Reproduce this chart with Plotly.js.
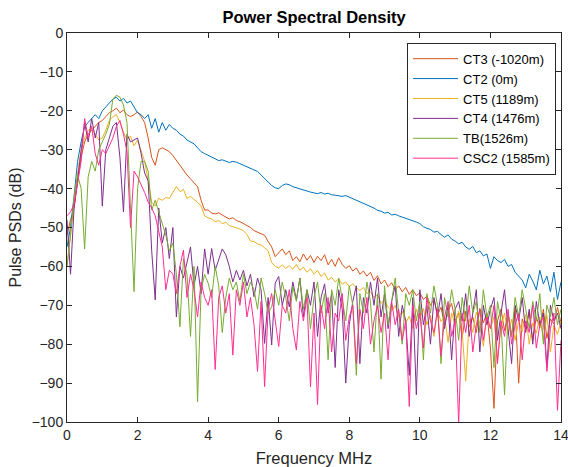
<!DOCTYPE html>
<html>
<head>
<meta charset="utf-8">
<script src="https://cdn.plot.ly/plotly-3.0.1.min.js"></script>
<style>html,body{margin:0;padding:0;background:#fff;}#chart{width:568px;height:467px;}</style>
</head>
<body>
<div id="chart"></div>
<script>
const freq = [0,0.1,0.2,0.3,0.4,0.5,0.6,0.7,0.8,0.9,1,1.1,1.2,1.3,1.4,1.5,1.6,1.7,1.8,1.9,2,2.1,2.2,2.3,2.4,2.5,2.6,2.7,2.8,2.9,3,3.1,3.2,3.3,3.4,3.5,3.6,3.7,3.8,3.9,4,4.1,4.2,4.3,4.4,4.5,4.6,4.7,4.8,4.9,5,5.1,5.2,5.3,5.4,5.5,5.6,5.7,5.8,5.9,6,6.1,6.2,6.3,6.4,6.5,6.6,6.7,6.8,6.9,7,7.1,7.2,7.3,7.4,7.5,7.6,7.7,7.8,7.9,8,8.1,8.2,8.3,8.4,8.5,8.6,8.7,8.8,8.9,9,9.1,9.2,9.3,9.4,9.5,9.6,9.7,9.8,9.9,10,10.1,10.2,10.3,10.4,10.5,10.6,10.7,10.8,10.9,11,11.1,11.2,11.3,11.4,11.5,11.6,11.7,11.8,11.9,12,12.1,12.2,12.3,12.4,12.5,12.6,12.7,12.8,12.9,13,13.1,13.2,13.3,13.4,13.5,13.6,13.7,13.8,13.9,14];

const seriesNames = ["CT3 (-1020m)", "CT2 (0m)", "CT5 (1189m)", "CT4 (1476m)", "TB(1526m)", "CSC2 (1585m)"];

const ct3 = [-52,-48,-45,-38,-32,-28,-26,-25,-24,-23,-22.5,-21.5,-20.5,-20,-19.3,-20.5,-19.8,-21,-21.5,-21,-20.3,-21.5,-23,-27,-32,-34,-30,-29.5,-30,-30.5,-31.5,-32.8,-34,-35.5,-36.5,-37.5,-38.5,-39.5,-43,-45.5,-45.5,-46.3,-46.5,-46.2,-46.8,-47.2,-47.8,-47.5,-48.2,-48.5,-49,-49.6,-50,-50.8,-51.2,-51.5,-52,-53.6,-55,-57.5,-56.5,-55.5,-57,-56,-58.5,-57.5,-58.8,-56.8,-58.4,-57.2,-59,-57.4,-58.5,-57,-59.6,-58.2,-60,-57.8,-59.5,-60.5,-59.8,-61.2,-60.4,-62,-61.2,-62.5,-61.5,-63.6,-62.4,-64.5,-63.5,-65.2,-64.2,-66,-65,-66.5,-65.4,-67.2,-66,-67.5,-66.8,-68.5,-67.6,-70,-68.5,-72.5,-70.5,-75,-71.5,-69.5,-74,-72,-78.5,-71.5,-75.5,-73,-77,-70.8,-74.5,-72,-81,-96.5,-74,-71,-76.5,-72.5,-78,-70.5,-90,-73.5,-76,-71.8,-79,-73,-75.8,-71,-78.5,-73.5,-74.8,-70.5,-74.5];

const ct2 = [-55,-50,-42,-33,-28,-24,-23,-22,-21,-22,-20,-19,-18,-17,-16.5,-17.5,-16.8,-18,-17.5,-19,-20.5,-21,-22,-21,-24.5,-22,-25.5,-23,-25,-23.5,-24.5,-25,-26,-26.5,-27.5,-28,-28.5,-29.5,-30.5,-31,-31.5,-32,-32.3,-32.8,-32.6,-33,-33.3,-33,-33.2,-33.6,-34,-34.3,-34.6,-35.2,-35.6,-36.5,-37.5,-38.3,-39.2,-39.8,-40,-39.2,-38.8,-39,-39.5,-39.8,-40.2,-40.3,-40.8,-40.9,-41.1,-41.3,-41,-41.4,-41.2,-41.6,-41.7,-41.9,-42,-41.8,-42.2,-42.6,-43,-43.5,-43.8,-44.3,-44.5,-45,-45.6,-45.8,-46.3,-46.1,-46.8,-46.6,-47,-47.3,-47.6,-47.8,-48.1,-48.6,-49,-49.8,-50.2,-50.5,-51.2,-51,-51.8,-52.5,-51.9,-53,-53.5,-54.2,-53.8,-55,-55.6,-54.9,-56.5,-56,-57.3,-56.8,-60.5,-57.5,-58.5,-59,-58.2,-60,-59.5,-61.5,-62.5,-63.5,-65.5,-62,-63.8,-66,-61,-64.5,-62.5,-66.5,-61.5,-68.5,-64];

const ct5 = [-60,-52,-44,-36,-30,-27,-25,-24.5,-26,-27.5,-27,-25,-22.5,-21.5,-21,-23,-25.5,-27.5,-26.5,-29,-27.5,-30,-33,-38,-43.5,-44.5,-42.5,-43,-42.3,-42.5,-41,-39.5,-40.8,-40.2,-42.5,-42,-42.8,-43.5,-44.5,-47,-47.5,-47.8,-48.5,-48.2,-49,-48.7,-49.5,-49.8,-50,-50.4,-50.8,-51.8,-53.5,-53.6,-54.2,-54.5,-55.2,-56,-59,-60,-60.4,-59.6,-60.5,-59.8,-60.7,-59.5,-61,-60.2,-61.5,-60.6,-62,-61,-62.6,-61.7,-63.5,-62.8,-64,-63.2,-64.6,-64,-65.2,-64.5,-65.5,-66.2,-65.4,-67,-66.5,-68,-67.2,-69.5,-68.6,-70.5,-71.5,-70,-73,-71.5,-74.5,-72.8,-76,-71,-73.5,-70.8,-75,-72.5,-78,-71.5,-74.2,-72.8,-79.5,-72,-75,-71.5,-76.8,-89.5,-73.5,-77,-71.8,-74.6,-80.5,-72.2,-76,-73,-84,-75.5,-72,-77.5,-73.6,-79,-74,-76.8,-72.4,-80,-74.5,-77.2,-73,-78.8,-72.6,-82,-75,-77.5,-74];

const ct4 = [-48,-62,-45,-38,-30,-23,-28,-22,-27,-23,-44.5,-30,-27,-24,-23,-32,-46,-26,-28,-27.5,-27,-31,-36,-38,-56,-68.6,-45,-54,-50,-58,-50,-73,-60,-63,-59,-55,-65,-60,-67,-55.5,-62,-55.4,-61,-58,-55.5,-57,-60,-64,-61,-63.5,-61,-65,-62,-67.8,-63,-66,-79.8,-68,-80.2,-64.3,-62.6,-70,-66,-70.4,-64,-68.6,-63,-73,-66,-70,-64,-78,-68,-64.5,-72,-67,-86,-66,-71,-90,-75,-69,-65,-85,-68,-72,-64,-70,-63,-73,-67,-76,-69,-65,-78,-70,-74,-88,-68,-93,-66,-75,-70,-80,-68,-73,-67,-76,-70,-84,-71,-69,-74,-67,-78,-72,-66,-82,-70,-75,-71,-68,-79,-72,-66,-76,-85,-70,-74,-68,-77,-71,-80,-69,-75,-72,-86,-70,-74,-72,-76];

const tb = [-60,-52,-42,-36.5,-40,-55.5,-37,-33,-35.5,-30,-28,-26,-23.5,-17,-16,-16.5,-18.5,-23,-45,-66.5,-40,-33,-33,-35.5,-45.5,-43,-46,-49,-52,-56,-54,-62,-75.5,-58,-62,-78,-60,-94.8,-66,-62,-64.3,-68,-60,-65,-77,-68,-63,-66,-64,-69,-62,-67,-64,-66,-71,-63,-67,-72,-70.4,-66,-70,-64,-68,-74,-65.2,-69,-63,-71,-66,-76,-68,-64,-72,-67,-84,-66,-70,-63,-68,-74,-65,-70,-88,-67,-72,-64,-69,-82,-67,-89,-65,-75,-69,-63,-72,-80,-67,-70,-66,-74,-69,-84,-67,-72,-65,-70,-85,-68,-73,-66,-71,-79,-68,-74,-65,-72,-69,-77,-66,-73,-70,-86,-69,-74,-93,-72,-78,-68,-73,-66,-71,-76,-69,-74,-67,-80,-70,-73,-68,-75,-71];

const csc2 = [-47,-46,-44,-38,-33,-22,-27,-24,-31,-34,-30,-31,-29,-27,-24,-22.5,-26,-30.5,-50,-35.5,-37,-39,-41,-43.5,-45,-47,-51,-55,-66,-61,-62,-67,-60,-55.8,-68,-62,-66,-73,-64,-68,-70,-66,-86.5,-68,-65,-72,-67,-82.8,-66,-70,-64,-73,-68,-75,-87,-69,-90.9,-71,-67,-74,-80.6,-70,-72,-66,-76,-81.5,-69,-74,-68,-91,-72,-95.5,-70,-76,-68,-82,-72,-74,-67,-79,-73,-70,-85,-71,-76,-68,-80,-74,-70,-77,-72,-84,-69,-75,-71,-79,-74,-96,-70,-76,-72,-81,-68,-74,-77,-71,-83,-73,-69,-78,-74,-100.5,-72,-77,-70,-82,-75,-71,-79,-73,-76,-70,-85,-74,-78,-71,-80,-75,-72,-84,-74,-77,-70,-81,-75,-73,-87,-76,-72,-97,-79];

const seriesValues = [ct3, ct2, ct5, ct4, tb, csc2];
const seriesColors = ["#D95319", "#0072BD", "#EDB120", "#7E2F8E", "#77AC30", "#FF2E93"];

const traces = seriesValues.map((vals, i) => ({
  x: freq,
  y: vals,
  type: "scatter",
  mode: "lines",
  name: seriesNames[i],
  line: {color: seriesColors[i], width: 1}
}));

const axisColor = "#262626";
const fontFam = "Liberation Sans, Arial, sans-serif";

const layout = {
  width: 568,
  height: 467,
  margin: {l: 67, r: 7, t: 33, b: 45},
  paper_bgcolor: "#ffffff",
  plot_bgcolor: "#ffffff",
  font: {family: fontFam, size: 14, color: axisColor},
  title: {
    text: "<b>Power Spectral Density</b>",
    font: {family: fontFam, size: 16.5, color: "#000000"},
    x: 0.553, xanchor: "center", y: 0.963, yanchor: "middle"
  },
  xaxis: {
    range: [0, 14], dtick: 2, tick0: 0,
    showgrid: false, zeroline: false,
    showline: true, mirror: "ticks", linecolor: axisColor, linewidth: 1,
    ticks: "inside", ticklen: 5, tickcolor: axisColor,
    ticklabeloverflow: "allow",
    tickfont: {family: fontFam, size: 14, color: axisColor},
    title: {text: "Frequency MHz", font: {family: fontFam, size: 16.5, color: axisColor}, standoff: 10}
  },
  yaxis: {
    range: [-100, 0], dtick: 10, tick0: 0,
    showgrid: false, zeroline: false,
    showline: true, mirror: "ticks", linecolor: axisColor, linewidth: 1,
    ticks: "inside", ticklen: 5, tickcolor: axisColor,
    tickfont: {family: fontFam, size: 14, color: axisColor},
    title: {text: "Pulse PSDs (dB)", font: {family: fontFam, size: 16, color: axisColor}, standoff: 6}
  },
  legend: {
    x: 0.99, xanchor: "right", y: 0.975, yanchor: "top",
    bgcolor: "#ffffff", bordercolor: axisColor, borderwidth: 1,
    font: {family: fontFam, size: 13, color: "#000000"},
    itemwidth: 45,
    tracegroupgap: 0
  },
  showlegend: true
};

Plotly.newPlot("chart", traces, layout, {displayModeBar: false, staticPlot: true});
</script>
</body>
</html>
